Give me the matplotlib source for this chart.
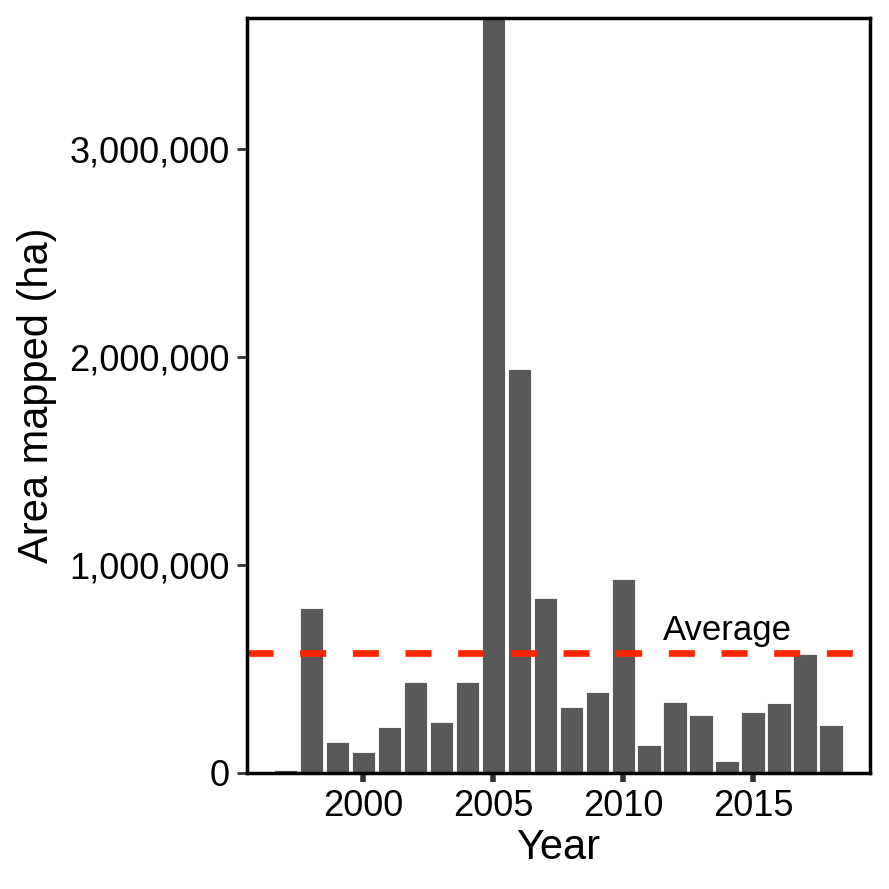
import matplotlib
matplotlib.use('Agg')
import matplotlib.pyplot as plt
import matplotlib.ticker as ticker
import numpy as np

# Area mapped per year (ha)
years = [1997, 1998, 1999, 2000, 2001, 2002, 2003, 2004, 2005, 2006, 2007,
         2008, 2009, 2010, 2011, 2012, 2013, 2014, 2015, 2016, 2017, 2018]
area = [15000, 792000, 150000, 101000, 223000, 439000, 247000, 439000, 3630000, 1942000, 841000,
        316000, 389000, 933000, 133000, 343000, 279000, 56000, 293000, 337000, 571000, 229000]
average_area = 578000
y_ticks = [0, 1000000, 2000000, 3000000]
x_ticks = [2000, 2005, 2010, 2015]

plt.rcParams['font.family'] = ['Liberation Sans', 'DejaVu Sans']

fig = plt.figure(figsize=(8.89, 8.89), dpi=100)
ax = fig.add_axes([0.2773, 0.1305, 0.9786 - 0.2773, 0.9792 - 0.1305])

ax.bar(years, area, width=0.9, color='#595959', edgecolor='white', linewidth=0.6, zorder=2)

ax.axhline(average_area, color='#ff2400', linewidth=4.8, linestyle=(0, (3.9, 4.0)),
           dash_capstyle='butt', zorder=3)
ax.text(2014, 640000, 'Average', fontsize=25, ha='center', va='baseline', zorder=4)

ax.set_xlim(1995.5, 2019.5)
ax.set_ylim(0, 3630000)
ax.set_xticks(x_ticks)
ax.set_yticks(y_ticks)
ax.yaxis.set_major_formatter(ticker.FuncFormatter(lambda v, p: f'{int(v):,}'))

ax.set_xlabel('Year', fontsize=30, labelpad=3)
ax.set_ylabel('Area mapped (ha)', fontsize=30, labelpad=9)

ax.tick_params(axis='x', labelsize=26, length=6.5, width=4, color='#333333', pad=5)
ax.tick_params(axis='y', labelsize=26, length=7, width=2, color='#333333', pad=5)

for spine in ax.spines.values():
    spine.set_linewidth(2.5)
    spine.set_color('black')
    spine.set_zorder(5)

fig.savefig('out.png', dpi=100)
